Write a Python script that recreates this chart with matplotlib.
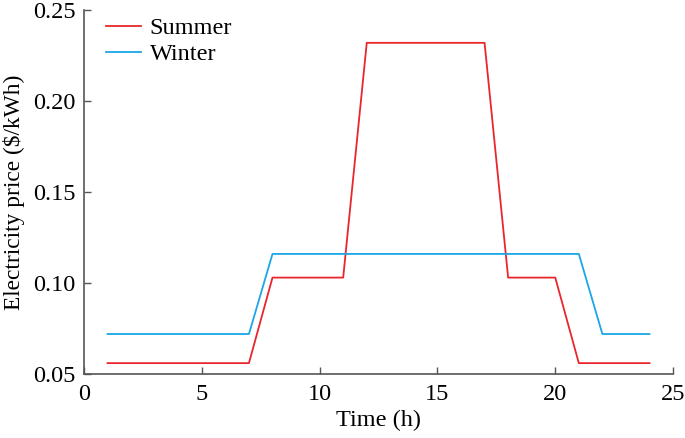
import matplotlib.pyplot as plt

plt.rcParams['font.family'] = ['Liberation Serif', 'DejaVu Serif']
plt.rcParams['mathtext.fontset'] = 'stix'

# hourly prices
summer_h = [1, 7, 8, 11, 12, 17, 18, 20, 21, 24]
summer_p = [0.056, 0.056, 0.103, 0.103, 0.232, 0.232, 0.103, 0.103, 0.056, 0.056]
winter_h = [1, 7, 8, 21, 22, 24]
winter_p = [0.072, 0.072, 0.116, 0.116, 0.072, 0.072]

fig = plt.figure(figsize=(6.85, 4.38), dpi=100)
ax = fig.add_axes([0.1226, 0.146, 0.86, 0.831])

ax.plot(summer_h, summer_p, color='#e8262b', lw=1.3, label='Summer')
ax.plot(winter_h, winter_p, color='#1ba6e6', lw=1.3, label='Winter')

ax.set_xlim(0, 25)
ax.set_ylim(0.05, 0.25)
ax.set_xticks([0, 5, 10, 15, 20, 25])
ax.set_yticks([0.05, 0.10, 0.15, 0.20, 0.25])
ax.set_yticklabels(['0.05', '0.10', '0.15', '0.20', '0.25'])

for s in ['top', 'right']:
    ax.spines[s].set_visible(False)
for s in ['left', 'bottom']:
    ax.spines[s].set_color('#555555')
    ax.spines[s].set_linewidth(1.2)
ax.tick_params(direction='in', length=5, width=1, colors='#555555', labelcolor='black', labelsize=17.5)
ax.tick_params(axis='x', pad=7)
ax.tick_params(axis='y', pad=6)

ax.set_xlabel('Time (h)', fontsize=17.5, labelpad=4)
ax.set_ylabel('Electricity price ($/kWh)', fontsize=16.8, labelpad=6)

ax.legend(loc='upper left', bbox_to_anchor=(0.0, 1.04), frameon=False, fontsize=17.5,
          handlelength=1.45, handletextpad=0.35, labelspacing=0.15)

fig.savefig('out.png', dpi=100)
